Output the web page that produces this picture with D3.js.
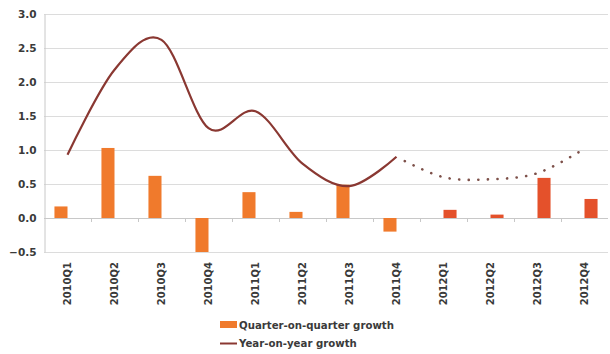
<!DOCTYPE html>
<html>
<head>
<meta charset="utf-8">
<script src="https://cdn.jsdelivr.net/npm/d3@7"></script>
<style>
  html, body { margin: 0; padding: 0; background: #fff; }
  svg { display: block; }
  text { font-family: "DejaVu Sans", sans-serif; font-weight: bold; fill: #3a3a3a; }
</style>
</head>
<body>
<svg id="chart" width="610" height="354"></svg>
<script>
// Quarters on the category axis
const categories = ["2010Q1","2010Q2","2010Q3","2010Q4","2011Q1","2011Q2","2011Q3","2011Q4","2012Q1","2012Q2","2012Q3","2012Q4"];
// Quarter-on-quarter growth (%), outturn 2010-2011 and projection 2012
const qoqActual   = [0.17, 1.03, 0.62, -0.50, 0.38, 0.09, 0.49, -0.20, null, null, null, null];
const qoqForecast = [null, null, null, null, null, null, null, null, 0.12, 0.05, 0.59, 0.28];
// Year-on-year growth (%), outturn and projection (projection joins at 2011Q4)
const yoyActual   = [0.93, 2.18, 2.62, 1.32, 1.57, 0.80, 0.47, 0.90, null, null, null, null];
const yoyForecast = [null, null, null, null, null, null, null, 0.90, 0.60, 0.57, 0.66, 1.02];
// Value axis ticks
const yTicks = [-0.5, 0.0, 0.5, 1.0, 1.5, 2.0, 2.5, 3.0];
const legendLabels = ["Quarter-on-quarter growth", "Year-on-year growth"];

const colors = { qoq: "#f07a2c", qoqF: "#e4512b", yoy: "#8a3832", yoyF: "#7d5049", grid: "#dcdcdc", axis: "#c8c8c8" };

const svg = d3.select("#chart");
const plot = { left: 44, right: 608, top: 14, bottom: 252 };

const x = d3.scaleBand().domain(categories).range([plot.left, plot.right]).paddingInner(0).paddingOuter(0);
const slot = d3.scaleBand().domain(["actual", "forecast"]).range([0, x.bandwidth()]).paddingInner(0).paddingOuter(0.8);
const y = d3.scaleLinear().domain([-0.5, 3.0]).range([plot.bottom, plot.top]);

// Horizontal gridlines
svg.append("g").selectAll("line").data(yTicks).join("line")
  .attr("x1", plot.left).attr("x2", plot.right)
  .attr("y1", d => Math.round(y(d)) + 0.5).attr("y2", d => Math.round(y(d)) + 0.5)
  .attr("stroke", d => d === 0 ? colors.axis : colors.grid).attr("stroke-width", 1);

// Value axis
const yAxis = d3.axisLeft(y).tickValues(yTicks).tickFormat(d3.format(".1f")).tickSize(0).tickPadding(8);
const gy = svg.append("g").attr("transform", `translate(${plot.left + 0.5},0)`).call(yAxis);
gy.select(".domain").attr("stroke", colors.axis);
gy.selectAll("text").style("font-size", "10.5px").attr("fill", "#3a3a3a");

// Category tick marks along the zero line
svg.append("g").selectAll("line").data(categories.slice(1)).join("line")
  .attr("x1", d => Math.round(x(d)) + 0.5).attr("x2", d => Math.round(x(d)) + 0.5)
  .attr("y1", Math.round(y(0))).attr("y2", Math.round(y(0)) + 4)
  .attr("stroke", colors.axis);

// Category labels, rotated
const xAxis = d3.axisBottom(x).tickSize(0).tickPadding(0);
const gx = svg.append("g").attr("transform", `translate(0,${plot.bottom + 10})`).call(xAxis);
gx.select(".domain").remove();
gx.selectAll("text")
  .style("font-size", "10px")
  .attr("text-anchor", "end")
  .attr("dy", "0.35em")
  .attr("transform", "rotate(-90)")
  .attr("x", -0.5).attr("y", 0);
gx.selectAll("text").attr("transform", "rotate(-90)").attr("x", -0).attr("dx", "0").each(function () {
  d3.select(this).attr("text-anchor", "end");
});

// Bars
function drawBars(values, key, color) {
  svg.append("g").selectAll("rect")
    .data(categories.map((c, i) => ({ c, v: values[i] })).filter(d => d.v !== null))
    .join("rect")
    .attr("x", d => x(d.c) + slot(key))
    .attr("width", slot.bandwidth())
    .attr("y", d => y(Math.max(0, d.v)))
    .attr("height", d => Math.abs(y(d.v) - y(0)))
    .attr("fill", color);
}
drawBars(qoqActual, "actual", colors.qoq);
drawBars(qoqForecast, "forecast", colors.qoqF);

// Smoothed growth lines
const line = d3.line()
  .defined(d => d.v !== null)
  .x(d => x(d.c) + x.bandwidth() / 2)
  .y(d => y(d.v))
  .curve(d3.curveCardinal.tension(0));

const pts = vals => categories.map((c, i) => ({ c, v: vals[i] })).filter(d => d.v !== null);

svg.append("path").datum(pts(yoyForecast)).attr("d", line)
  .attr("fill", "none").attr("stroke", colors.yoyF).attr("stroke-width", 2.6)
  .attr("stroke-linecap", "round").attr("stroke-dasharray", "0.1,9.5").attr("stroke-dashoffset", -9.5);

svg.append("path").datum(pts(yoyActual)).attr("d", line)
  .attr("fill", "none").attr("stroke", colors.yoy).attr("stroke-width", 2.2)
  .attr("stroke-linejoin", "round");

// Legend
const lg = svg.append("g").attr("transform", "translate(220,0)");
lg.append("rect").attr("x", 0).attr("y", 321).attr("width", 17).attr("height", 7).attr("fill", colors.qoq);
lg.append("text").attr("x", 19).attr("y", 325).attr("dy", "0.35em").style("font-size", "10.2px").text(legendLabels[0]);
lg.append("line").attr("x1", 0).attr("x2", 17).attr("y1", 343.5).attr("y2", 343.5).attr("stroke", colors.yoy).attr("stroke-width", 2);
lg.append("text").attr("x", 19).attr("y", 343).attr("dy", "0.35em").style("font-size", "10.2px").text(legendLabels[1]);
</script>
</body>
</html>
